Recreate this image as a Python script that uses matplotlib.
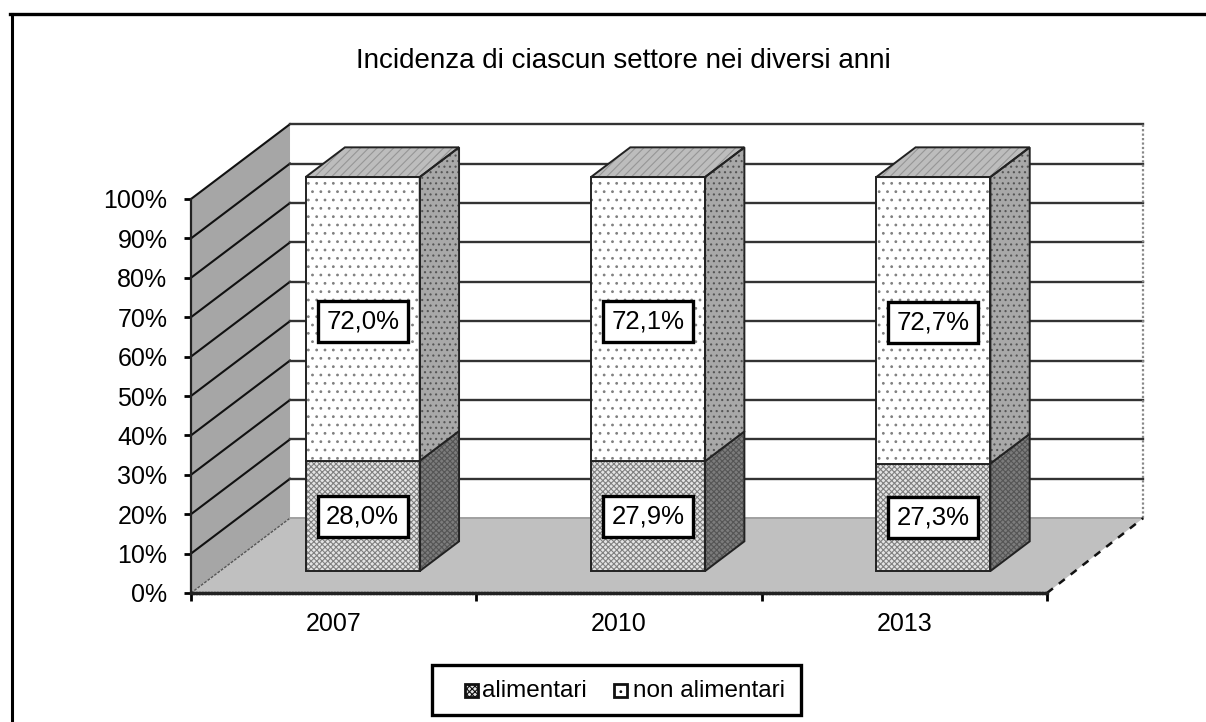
import matplotlib
matplotlib.use("Agg")
import matplotlib.pyplot as plt
from matplotlib.lines import Line2D
from matplotlib.patches import Polygon, Rectangle

plt.rcParams["font.family"] = ["Liberation Sans", "DejaVu Sans"]
plt.rcParams["hatch.linewidth"] = 0.8

title = "Incidenza di ciascun settore nei diversi anni"
years = ["2007", "2010", "2013"]
alimentari = [28.0, 27.9, 27.3]
non_alimentari = [72.0, 72.1, 72.7]
labels_alim = ["28,0%", "27,9%", "27,3%"]
labels_non = ["72,0%", "72,1%", "72,7%"]
series_names = ["alimentari", "non alimentari"]
y_ticks = list(range(0, 101, 10))

W, H = 1206, 722
DX = 0.347   # profondita' in unita' categoria
DY = 19.0    # profondita' in punti percentuali
XBACK = 2.99  # la parete di fondo finisce un po' prima
BAR_W = 0.40
Z0, Z1 = 0.293, 0.69

fig = plt.figure(figsize=(W / 100, H / 100), dpi=100)
ax = fig.add_axes([191 / W, 1 - 593 / H, 856 / W, 394 / H])
ax.set_xlim(0, 3)
ax.set_ylim(0, 100)
ax.patch.set_visible(False)


def proj(x, y, z):
    return (x + DX * z, y + DY * z)


def face(pts, **kw):
    ax.add_patch(Polygon(pts, closed=True, clip_on=False, **kw))


def hatched(pts, fill, hatch, hcolor, z, lw=1.4):
    face(pts, facecolor=fill, edgecolor=hcolor, hatch=hatch, lw=0, zorder=z)
    face(pts, facecolor="none", edgecolor="#222222", lw=lw, zorder=z + 0.1)


# pareti e pavimento
face([proj(0, 0, 0), proj(0, 0, 1), proj(0, 100, 1), proj(0, 100, 0)],
     facecolor="#a6a6a6", edgecolor="none", zorder=1)
face([proj(0, 0, 0), proj(3, 0, 0), proj(XBACK, 0, 1), proj(0, 0, 1)],
     facecolor="#c0c0c0", edgecolor="none", zorder=1)

for t in y_ticks:
    p0, p1, p2 = proj(0, t, 0), proj(0, t, 1), proj(XBACK, t, 1)
    if t == 0:
        ax.plot([p0[0], p1[0]], [p0[1], p1[1]], color="#555555", lw=1, ls=(0, (2, 1)), clip_on=False, zorder=2)
        ax.plot([p1[0], p2[0]], [p1[1], p2[1]], color="#a0a0a0", lw=1.4, clip_on=False, zorder=2)
    else:
        ax.plot([p0[0], p1[0]], [p0[1], p1[1]], color="#111111", lw=1.5, clip_on=False, zorder=2)
        ax.plot([p1[0], p2[0]], [p1[1], p2[1]], color="#333333", lw=1.7, clip_on=False, zorder=2)

# bordi tratteggiati a destra
ax.plot(*zip(proj(XBACK, 0, 1), proj(XBACK, 100, 1)), color="#888888", lw=1.6, ls=(0, (1, 1)), clip_on=False, zorder=2)
ax.plot(*zip(proj(3, 0, 0), proj(XBACK, 0, 1)), color="#111111", lw=1.8, ls=(0, (3, 3)), clip_on=False, zorder=2)


def box(xc, y0, y1, front, hatch, side, side_hatch, top, z):
    x0, x1 = xc - BAR_W / 2, xc + BAR_W / 2
    hatched([proj(x0, y0, Z0), proj(x1, y0, Z0), proj(x1, y1, Z0), proj(x0, y1, Z0)],
            front, hatch, "#808080", z)
    hatched([proj(x1, y0, Z0), proj(x1, y0, Z1), proj(x1, y1, Z1), proj(x1, y1, Z0)],
            side, side_hatch, "#555555", z)
    if top:
        hatched([proj(x0, y1, Z0), proj(x1, y1, Z0), proj(x1, y1, Z1), proj(x0, y1, Z1)],
                "#bdbdbd", "////", "#969696", z)


for i, year in enumerate(years):
    xc = i + 0.5
    a, n = alimentari[i], non_alimentari[i]
    box(xc, 0, a, "#e4e4e4", "xxxxxx", "#7c7c7c", "xxxxxx", False, 3)
    box(xc, a, a + n, "white", "..", "#a8a8a8", "...", True, 4)
    lx = proj(xc, 0, Z0)[0]
    box_style = dict(boxstyle="square,pad=0.33", facecolor="white", edgecolor="black", lw=2.4)
    ax.text(lx, a / 2 + DY * Z0 - 0.1, labels_alim[i], ha="center", va="center", fontsize=18.5,
            bbox=box_style, zorder=6, clip_on=False)
    ax.text(lx, a + n / 2 + DY * Z0 - 0.6, labels_non[i], ha="center", va="center", fontsize=18.5,
            bbox=box_style, zorder=6, clip_on=False)

# assi con tick reali
for s in ["top", "right"]:
    ax.spines[s].set_visible(False)
for s in ["left", "bottom"]:
    ax.spines[s].set_color("#222222")
    ax.spines[s].set_linewidth(1.6)
    ax.spines[s].set_zorder(5)
ax.spines["bottom"].set_linewidth(2.4)
ax.spines["bottom"].set_linestyle((0, (0.5, 0.4)))
ax.set_yticks(y_ticks, [f"{t}%" for t in y_ticks], fontsize=18)
ax.set_xticks([0, 1, 2, 3], [""] * 4)
ax.set_xticks([0.5, 1.5, 2.5], years, minor=True, fontsize=18)
ax.tick_params(axis="y", length=5, width=2, color="black", pad=12)
ax.tick_params(axis="x", which="major", length=6, width=2, color="black")
ax.tick_params(axis="x", which="minor", length=0, pad=14)

fig.text(623 / W, 1 - 61.5 / H, title, ha="center", va="center", fontsize=20)

# legenda
fig.patches.append(Rectangle((432 / W, 1 - 715 / H), 369 / W, 50 / H, transform=fig.transFigure,
                             facecolor="white", edgecolor="black", lw=2.4))
for name, sx, tx, col, ht in [(series_names[0], 465, 482, "#e4e4e4", "xxxxxx"),
                              (series_names[1], 614, 633, "white", "..")]:
    fig.patches.append(Rectangle((sx / W, 1 - 697 / H), 13 / W, 13 / H, transform=fig.transFigure,
                                 facecolor=col, edgecolor="#111111", lw=2, hatch=ht))
    fig.text(tx / W, 1 - 691 / H, name, ha="left", va="center", fontsize=17.5)

# cornice esterna: solo lato sinistro e superiore, il resto esce dall'immagine
fig.add_artist(Line2D([11.5 / W, 11.5 / W], [0, 1 - 13.5 / H], color="black", lw=2.2))
fig.add_artist(Line2D([10 / W, 1], [1 - 13.5 / H, 1 - 13.5 / H], color="black", lw=2.4))

fig.savefig("out.png", dpi=100, facecolor="white")
